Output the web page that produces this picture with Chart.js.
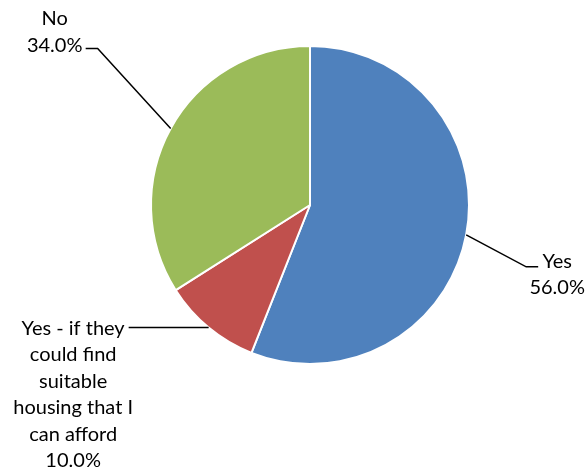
<!DOCTYPE html>
<html>
<head>
<meta charset="utf-8">
<script src="https://cdn.jsdelivr.net/npm/chart.js@4/dist/chart.umd.min.js"></script>
<style>
  html, body { margin: 0; padding: 0; background: #fff; }
  #wrap { width: 586px; height: 468px; }
</style>
</head>
<body>
<div id="wrap"><canvas id="pie" width="586" height="468"></canvas></div>
<script>
// Survey answers
const categories = ['Yes', 'Yes - if they could find suitable housing that I can afford', 'No'];
const shares = [56.0, 10.0, 34.0];
const colors = ['#4F81BD', '#C0504D', '#9BBB59'];

// Wrapped label text, one array per slice
const labelLines = [
    ['Yes'],
    ['Yes - if they', 'could find', 'suitable', 'housing that I', 'can afford'],
    ['No']
];

const FONT = '20px Lato, sans-serif';

// Leader line + label layout per slice:
// elbow offset from the arc edge, horizontal tail length, text block centre x relative to tail end,
// first-row y relative to the elbow, row height
const leaders = [
    { elbow: [60, 32], tail: 12, textDx: 19, textDy: -5, lineH: 26 },
    { elbow: [0, 0], tail: -80, textDx: -55.5, textDy: 1, lineH: 26.5 },
    { elbow: [-73, -80], tail: -12, textDx: -31, textDy: -30, lineH: 27 }
];

const calloutPlugin = {
    id: 'callouts',
    afterDatasetsDraw(chart) {
        const ctx = chart.ctx;
        const meta = chart.getDatasetMeta(0);
        ctx.save();
        ctx.font = FONT;
        ctx.fillStyle = '#000';
        ctx.strokeStyle = '#000';
        ctx.lineWidth = 1.5;
        ctx.textAlign = 'center';
        ctx.textBaseline = 'middle';
        meta.data.forEach((arc, i) => {
            const p = arc.getProps(['x', 'y', 'startAngle', 'endAngle', 'outerRadius'], true);
            const mid = (p.startAngle + p.endAngle) / 2;
            const sx = p.x + Math.cos(mid) * p.outerRadius;
            const sy = p.y + Math.sin(mid) * p.outerRadius;
            const L = leaders[i];
            const ex = sx + L.elbow[0];
            const ey = sy + L.elbow[1];
            const tx = ex + L.tail;
            ctx.beginPath();
            ctx.moveTo(sx, sy);
            ctx.lineTo(ex, ey);
            ctx.lineTo(tx, ey);
            ctx.stroke();

            const lines = labelLines[i].concat([shares[i].toFixed(1) + '%']);
            const cx = tx + L.textDx;
            const y0 = ey + L.textDy;
            lines.forEach((t, k) => ctx.fillText(t, cx, y0 + k * L.lineH));
        });
        ctx.restore();
    }
};

new Chart(document.getElementById('pie'), {
    type: 'pie',
    data: {
        labels: categories,
        datasets: [{
            data: shares,
            backgroundColor: colors,
            borderColor: '#fff',
            borderWidth: 2
        }]
    },
    options: {
        responsive: false,
        animation: false,
        layout: { padding: { left: 150, right: 116, top: 45, bottom: 103 } },
        plugins: {
            legend: { display: false },
            tooltip: { enabled: false }
        }
    },
    plugins: [calloutPlugin]
});
</script>
</body>
</html>
